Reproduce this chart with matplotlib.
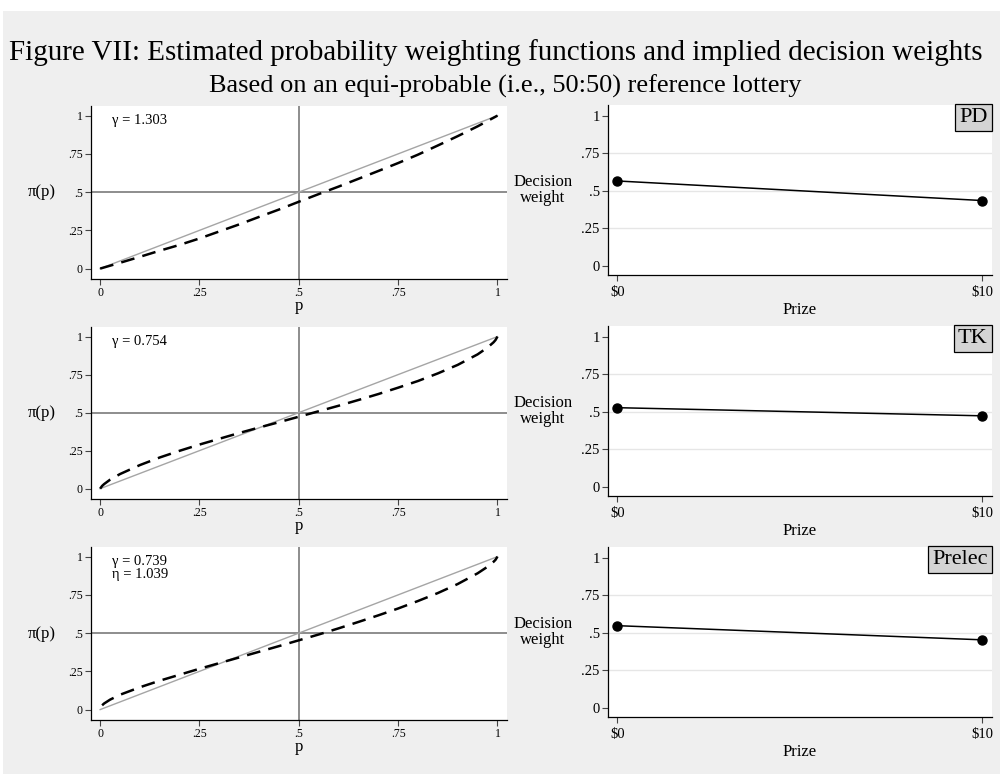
import matplotlib
matplotlib.use("Agg")
import matplotlib.pyplot as plt
from matplotlib.patches import Rectangle

# ----------------------------
# Data
# ----------------------------
# PD weighting function (gamma = 1.303)
p_pd = [0, 0.05, 0.1, 0.15, 0.2, 0.25, 0.3, 0.35, 0.4, 0.45, 0.5,
        0.55, 0.6, 0.65, 0.7, 0.75, 0.8, 0.85, 0.9, 0.95, 1.0]
pi_pd = [0, 0.038, 0.077, 0.117, 0.155, 0.197, 0.243, 0.289, 0.338, 0.386, 0.437,
         0.487, 0.536, 0.587, 0.638, 0.69, 0.745, 0.805, 0.866, 0.93, 1.0]

# TK weighting function (gamma = 0.754)
p_tk = [0, 0.005, 0.01, 0.025, 0.05, 0.1, 0.15, 0.2, 0.25, 0.3, 0.35, 0.4, 0.45, 0.5,
        0.55, 0.6, 0.65, 0.7, 0.75, 0.8, 0.85, 0.9, 0.95, 0.975, 0.99, 0.995, 1.0]
pi_tk = [0, 0.018, 0.030, 0.059, 0.096, 0.155, 0.205, 0.249, 0.290, 0.328, 0.366, 0.402,
         0.437, 0.473, 0.509, 0.545, 0.583, 0.622, 0.664, 0.708, 0.758, 0.814, 0.883,
         0.928, 0.962, 0.977, 1.0]

# Prelec weighting function (gamma = 0.739, eta = 1.039)
p_pr = [0.005, 0.01, 0.025, 0.05, 0.1, 0.15, 0.2, 0.25, 0.3, 0.35, 0.4, 0.45, 0.5,
        0.55, 0.6, 0.65, 0.7, 0.75, 0.8, 0.85, 0.9, 0.95, 0.975, 0.99, 0.995, 1.0]
pi_pr = [0.028, 0.040, 0.065, 0.097, 0.146, 0.189, 0.228, 0.267, 0.304, 0.341, 0.378,
         0.415, 0.453, 0.491, 0.531, 0.573, 0.616, 0.661, 0.710, 0.762, 0.821, 0.891,
         0.934, 0.966, 0.979, 1.0]

# Implied decision weights for the 50:50 lottery
prizes = [0, 10]
prize_labels = ["\\$0", "\\$10"]
dw_pd = [0.565, 0.435]
dw_tk = [0.527, 0.473]
dw_pr = [0.547, 0.453]

models = ["PD", "TK", "Prelec"]
param_text = ["\u03b3 = 1.303", "\u03b3 = 0.754", "\u03b3 = 0.739\n\u03b7 = 1.039"]
curves = [(p_pd, pi_pd), (p_tk, pi_tk), (p_pr, pi_pr)]
weights = [dw_pd, dw_tk, dw_pr]

ticks = [0, 0.25, 0.5, 0.75, 1]
tick_labels = ["0", ".25", ".5", ".75", "1"]

# ----------------------------
# Style
# ----------------------------
plt.rcParams.update({
    "font.family": ["Liberation Serif", "DejaVu Serif"],
    "axes.linewidth": 0.9,
})

BG = "#efefef"

fig = plt.figure(figsize=(10, 7.74), dpi=100, facecolor="white")
fig.patches.append(Rectangle((0.003, 0), 0.997, 1 - 11 / 774,
                             transform=fig.transFigure, facecolor=BG,
                             edgecolor="none", zorder=-10))

fig.text(0.009, 1 - 53 / 774, "Figure VII: Estimated probability weighting functions and implied decision weights",
         ha="left", va="center", fontsize=20.9)
fig.text(0.505, 1 - 86 / 774, "Based on an equi-probable (i.e., 50:50) reference lottery",
         ha="center", va="center", fontsize=19)

# axes boxes in pixels: (left, top, right, bottom)
left_boxes = [(91, 106, 507, 279), (91, 327, 507, 499), (91, 547, 507, 720)]
right_boxes = [(608, 105, 992, 275), (608, 326, 992, 496), (608, 547, 992, 717)]


def px_rect(box):
    l, t, r, b = box
    return [l / 1000, 1 - b / 774, (r - l) / 1000, (b - t) / 774]


def style_axes(ax, labelsize, pad):
    for s in ["top", "right"]:
        ax.spines[s].set_visible(False)
    ax.spines["left"].set_color("black")
    ax.spines["bottom"].set_color("black")
    ax.tick_params(direction="out", length=4, width=0.8, color="#444444",
                   labelsize=labelsize, pad=2)
    ax.tick_params(axis="x", pad=pad)
    ax.set_facecolor("white")


for i in range(3):
    # ----- left: weighting function -----
    ax = fig.add_axes(px_rect(left_boxes[i]))
    style_axes(ax, 8.5, 2)
    ax.set_xlim(-0.023, 1.024)
    ax.set_ylim(-0.068, 1.063)
    ax.plot([0, 1], [0, 1], color="#a5a5a5", lw=1.0, zorder=2)
    ax.axhline(0.5, color="#7a7a7a", lw=1.2, zorder=1)
    ax.axvline(0.5, color="#7a7a7a", lw=1.2, zorder=1)
    px, py = curves[i]
    ax.plot(px, py, color="black", lw=1.8, linestyle=(0, (5.5, 3.3)),
            dash_capstyle="butt", zorder=3)
    ax.set_xticks(ticks, tick_labels)
    ax.set_yticks(ticks, tick_labels)
    ax.text(0.05, 0.955, param_text[i], transform=ax.transAxes, ha="left",
            va="top", fontsize=10.5, linespacing=1.0)
    ax.set_ylabel("\u03c0(p)", rotation=0, fontsize=12, ha="center", va="center")
    ax.yaxis.set_label_coords(-0.118, 0.5)
    ax.set_xlabel("p", fontsize=12)
    ax.xaxis.label.set_va("center")
    ax.xaxis.set_label_coords(0.5, -0.155)

    # ----- right: decision weights -----
    ax2 = fig.add_axes(px_rect(right_boxes[i]))
    style_axes(ax2, 10.5, 4)
    ax2.set_xlim(-0.26, 10.27)
    ax2.set_ylim(-0.06, 1.07)
    for g in [0.25, 0.5, 0.75]:
        ax2.axhline(g, color="#e6e6e6", lw=1.0, zorder=0)
    ax2.plot(prizes, weights[i], color="black", lw=1.1, marker="o",
             markersize=6.5, zorder=3)
    ax2.set_xticks(prizes, prize_labels)
    ax2.set_yticks(ticks, tick_labels)
    ax2.set_ylabel("Decision\nweight", rotation=0, fontsize=12, ha="center",
                   va="center", linespacing=0.95)
    ax2.yaxis.set_label_coords(-0.17, 0.5)
    ax2.set_xlabel("Prize", fontsize=12)
    ax2.xaxis.label.set_va("center")
    ax2.xaxis.set_label_coords(0.5, -0.205)
    ax2.text(0.989, 0.98, models[i], transform=ax2.transAxes, ha="right",
             va="top", fontsize=16,
             bbox=dict(boxstyle="square,pad=0.18", facecolor="#d4d4d4",
                       edgecolor="black", linewidth=0.9))

fig.savefig("out.png", dpi=100, facecolor=fig.get_facecolor())
